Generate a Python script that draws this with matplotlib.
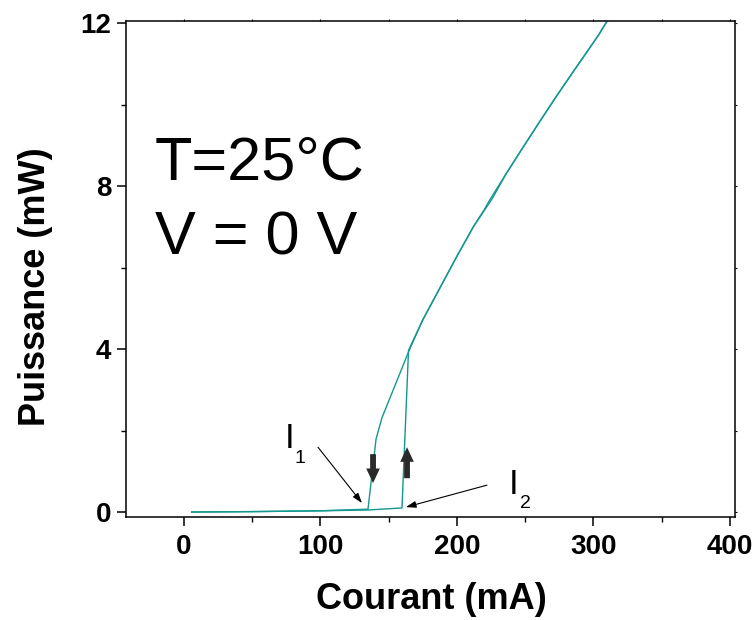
import numpy as np
import matplotlib.pyplot as plt
from matplotlib.ticker import MultipleLocator

plt.rcParams['font.family'] = ['Liberation Sans', 'DejaVu Sans']

# courant croissant (mA) / puissance (mW)
current_up = [5.6, 50, 100, 134.8, 159.7, 164.5, 175.0, 187.5, 200.0, 212.0,
              220.0, 224.0, 236.0, 248.0, 260.0, 272.0, 284.0, 296.0, 304.0,
              310.0, 312.0]
power_up = [0.00, 0.01, 0.03, 0.05, 0.10, 3.97, 4.72, 5.50, 6.28, 7.00,
            7.42, 7.66, 8.30, 8.93, 9.55, 10.16, 10.75, 11.33, 11.72,
            12.05, 12.15]

# courant decroissant
current_down = [312.0, 310.0, 304.0, 296.0, 284.0, 272.0, 260.0, 248.0, 236.0,
                226.0, 218.0, 212.0, 200.0, 187.5, 175.0, 165.0, 145.0, 140.7,
                137.0, 134.8, 100, 50, 5.6]
power_down = [12.15, 12.05, 11.72, 11.33, 10.75, 10.16, 9.55, 8.93, 8.30,
              7.70, 7.30, 7.00, 6.28, 5.50, 4.72, 3.97, 2.31, 1.79,
              0.71, 0.07, 0.03, 0.01, 0.00]

x_ticks = [0, 100, 200, 300, 400]
y_ticks = [0, 4, 8, 12]

teal = '#13978f'
dark = '#2a2a2a'

fig = plt.figure(figsize=(7.55, 6.2), dpi=100)
ax = fig.add_axes([0.1669, 0.1666, 0.8066, 0.7995])

ax.plot(current_up, power_up, color=teal, lw=1.0)
ax.plot(current_down, power_down, color=teal, lw=1.0)

ax.set_xlim(-42.5, 403.7)
ax.set_ylim(-0.115, 12.05)
ax.set_xticks(x_ticks)
ax.set_yticks(y_ticks)
ax.xaxis.set_minor_locator(MultipleLocator(50))
ax.yaxis.set_minor_locator(MultipleLocator(2))

for side in ax.spines.values():
    side.set_linewidth(1.1)

ax.tick_params(which='major', direction='out', length=6.5, width=1.1,
               top=True, right=True, labelsize=20, pad=6)
ax.tick_params(which='minor', direction='out', length=3.5, width=1.0,
               top=True, right=True)
ax.tick_params(axis='y', pad=4)
# petites graduations sur les axes du haut et de droite
for tk in (ax.xaxis.get_major_ticks() + ax.xaxis.get_minor_ticks()
           + ax.yaxis.get_major_ticks() + ax.yaxis.get_minor_ticks()):
    tk.tick2line.set_markersize(1.5)
    tk.tick2line.set_markeredgewidth(0.8)
for lab in ax.get_xticklabels() + ax.get_yticklabels():
    lab.set_fontweight('bold')

ax.set_xlabel('Courant (mA)', fontsize=26, fontweight='bold')
ax.set_ylabel('Puissance (mW)', fontsize=26, fontweight='bold')
ax.xaxis.set_label_coords(0.502, -0.132)
ax.yaxis.set_label_coords(-0.12, 0.465)

ax.text(-21.2, 8.15, 'T=25°C', fontsize=44, ha='left', va='baseline')
ax.text(-21.2, 6.31, 'V = 0 V', fontsize=44, ha='left', va='baseline')

# I1 et I2
ax.text(77.7, 1.57, 'I', fontsize=25, ha='center', va='baseline')
ax.text(85.0, 1.20, '1', fontsize=14, ha='center', va='baseline')
ax.text(241.8, 0.44, 'I', fontsize=25, ha='center', va='baseline')
ax.text(249.8, 0.10, '2', fontsize=14, ha='center', va='baseline')

thin = dict(arrowstyle='-|>,head_length=0.6,head_width=0.2', color='black',
            lw=0.8, shrinkA=0, shrinkB=0)
ax.annotate('', xy=(130.4, 0.22), xytext=(98.2, 1.59), arrowprops=thin)
ax.annotate('', xy=(162.6, 0.12), xytext=(222.0, 0.66), arrowprops=thin)

thick = dict(arrowstyle='simple,head_length=0.75,head_width=0.7,tail_width=0.3',
             color=dark, lw=0, shrinkA=0, shrinkB=0, mutation_scale=14)
ax.annotate('', xy=(138.5, 0.71), xytext=(138.5, 1.42), arrowprops=thick)
ax.annotate('', xy=(163.4, 1.59), xytext=(163.4, 0.83), arrowprops=thick)

fig.savefig('out.png', dpi=100)
